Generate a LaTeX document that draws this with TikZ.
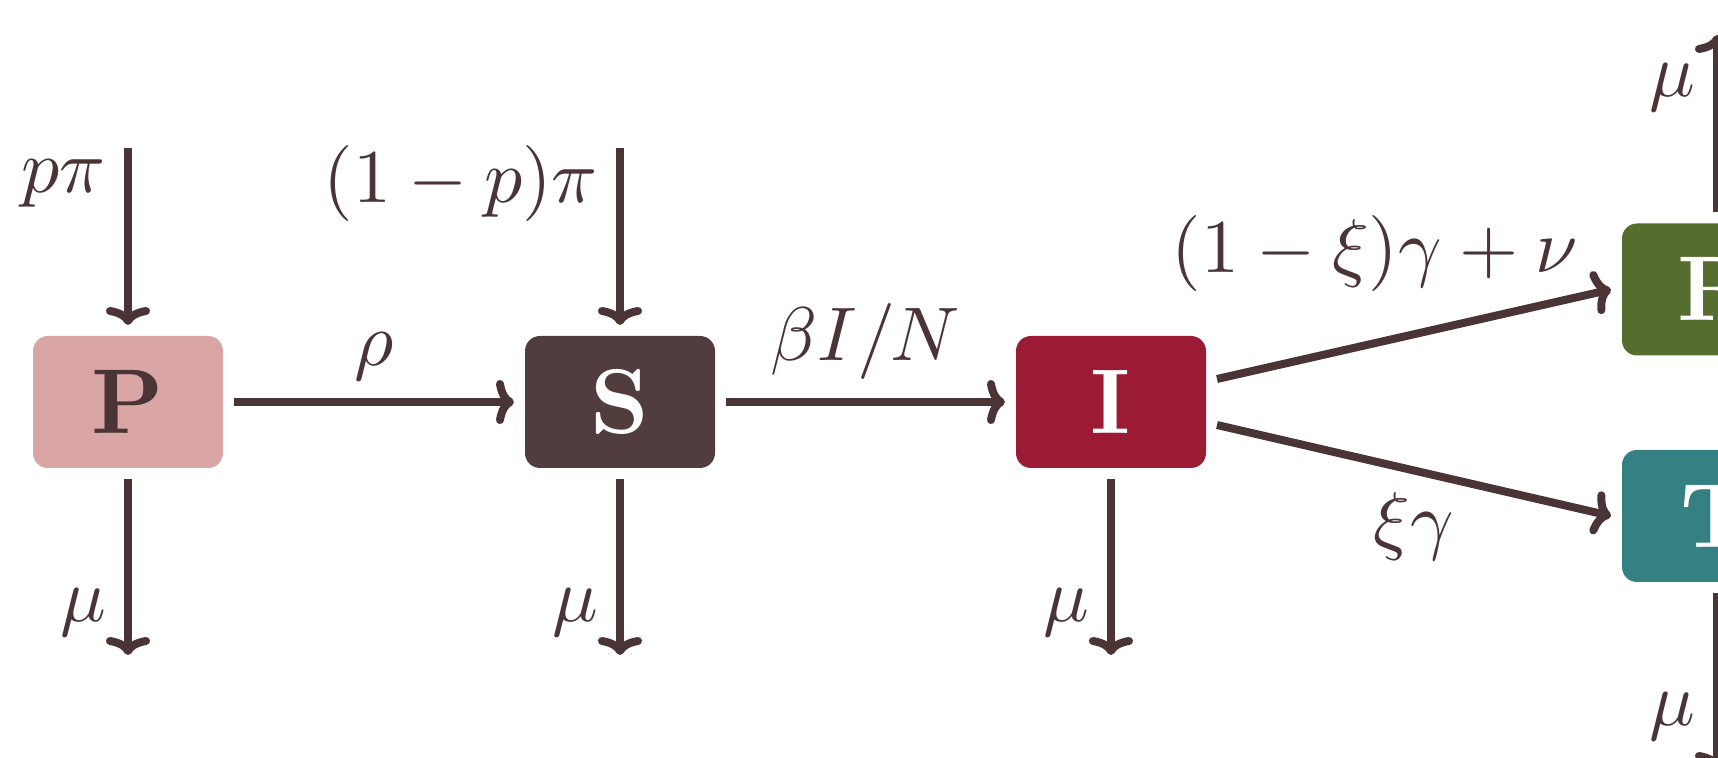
\documentclass[tikz,border=0pt]{standalone}
\usetikzlibrary{arrows.meta}
\definecolor{ink}{HTML}{4A3436}
\definecolor{pcol}{HTML}{D9A5A5}
\definecolor{scol}{HTML}{523D3E}
\definecolor{icol}{HTML}{9B1B34}
\definecolor{rcol}{HTML}{566D30}
\definecolor{tcol}{HTML}{348083}
\newcommand{\bigtxt}[1]{\scalebox{2.3}{\bfseries #1}}
\newcommand{\lab}[1]{\scalebox{1.9}{#1}}
\tikzset{
  box/.style={rectangle, rounded corners=3.75pt, minimum width=47.5pt,
    minimum height=33pt, outer sep=2.75pt, inner sep=0pt, text=white},
  flow/.style={line width=2pt, draw=ink,
    -{Computer Modern Rightarrow[length=4.5pt,width=11pt]}},
  lbl/.style={inner sep=4.5pt, text=ink}
}
\begin{document}
\begin{tikzpicture}[x=0.25pt,y=-0.25pt]
\useasboundingbox (0,0) rectangle (1718,758);
\clip (0,0) rectangle (1718,758);
% compartments
\node[box, fill=pcol, text=ink] (P) at (128,402) {\bigtxt{P}};
\node[box, fill=scol] (S) at (620,402) {\bigtxt{S}};
\node[box, fill=icol] (I) at (1111,402) {\bigtxt{I}};
\node[box, fill=rcol] (R) at (1717,289.5) {\bigtxt{R}};
\node[box, fill=tcol] (T) at (1717,516) {\bigtxt{T}};
% free ends
\coordinate (pin) at (128,148);
\coordinate (sin) at (620,148);
\coordinate (pout) at (128,655);
\coordinate (sout) at (620,655);
\coordinate (iout) at (1111,655);
\coordinate (rout) at (1717,35);
\coordinate (tout) at (1717,770);
% inflows
\draw[flow] (pin) -- node[lbl, pos=0.2, left] {\lab{$p\pi$}} (P.north);
\draw[flow] (sin) -- node[lbl, pos=0.2, left] {\lab{$(1-p)\pi$}} (S.north);
% transitions
\draw[flow] (P.east) -- node[lbl, above] {\lab{$\rho$}} (S.west);
\draw[flow] (S.east) -- node[lbl, above] {\lab{$\beta I/N$}} (I.west);
\draw[flow] ([yshift=5.75pt]I.east) -- node[lbl, pos=0.4, above=7.5pt] {\lab{$(1-\xi)\gamma+\nu$}} (R.west);
\draw[flow] ([yshift=-5.75pt]I.east) -- node[lbl, below] {\lab{$\xi\gamma$}} (T.west);
% deaths
\draw[flow] (P.south) -- node[lbl, pos=0.76, left] {\lab{$\mu$}} (pout);
\draw[flow] (S.south) -- node[lbl, pos=0.76, left] {\lab{$\mu$}} (sout);
\draw[flow] (I.south) -- node[lbl, pos=0.76, left] {\lab{$\mu$}} (iout);
\draw[flow] (R.north) -- node[lbl, pos=0.705, left] {\lab{$\mu$}} (rout);
\draw[flow] (T.south) -- node[lbl, pos=0.70, left] {\lab{$\mu$}} (tout);
\end{tikzpicture}
\end{document}
